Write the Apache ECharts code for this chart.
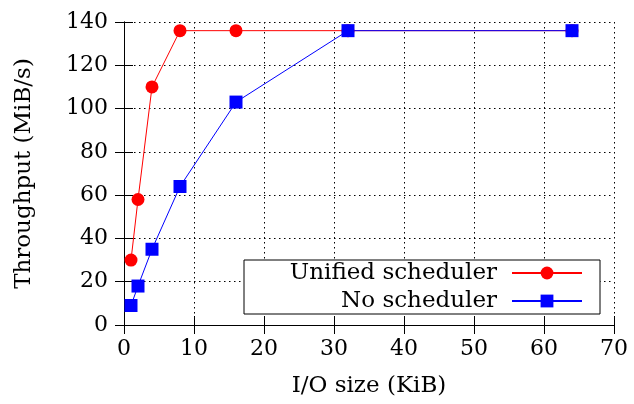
<!DOCTYPE html>
<html><head><meta charset="utf-8">
<script src="https://cdn.jsdelivr.net/npm/echarts@6/dist/echarts.min.js"></script>
<style>html,body{margin:0;padding:0;background:#fff}#c{width:634px;height:404px}</style>
</head><body><div id="c"></div>
<script>
const ioSizes = [1, 2, 4, 8, 16, 32, 64];
const unifiedScheduler = [30, 58, 110, 136, 136, 136, 136];
const noScheduler = [9, 18, 35, 64, 103, 136, 136];
const xTicks = [0, 10, 20, 30, 40, 50, 60, 70];
const yTicks = [0, 20, 40, 60, 80, 100, 120, 140];

const font = 'DejaVu Serif';
const chart = echarts.init(document.getElementById('c'), null, {renderer: 'canvas'});
const axisCommon = {
  axisLine: {show: true, lineStyle: {color: '#000', width: 1}},
  axisTick: {show: true, inside: true, length: 9, lineStyle: {color: '#000'}},
};
const legendText = {fontFamily: font, fontSize: 23, color: '#000', lineHeight: 24, padding: [0, 10, 0, 0]};
chart.setOption({
  animation: false,
  backgroundColor: '#fff',
  grid: {left: 124, top: 22, right: 20, bottom: 79, containLabel: false},
  xAxis: [{
    type: 'value', min: xTicks[0], max: xTicks[xTicks.length - 1], interval: 10,
    name: 'I/O size (KiB)', nameLocation: 'middle', nameGap: 50,
    nameTextStyle: {fontFamily: font, fontSize: 23, color: '#000'},
    axisLabel: {fontFamily: font, fontSize: 22, color: '#000', margin: 13},
    splitLine: {show: true, lineStyle: {color: '#000', type: [1.5, 3.5], width: 1}},
    ...axisCommon
  }, {
    type: 'value', position: 'top', min: xTicks[0], max: xTicks[xTicks.length - 1], interval: 10,
    axisLabel: {show: false}, splitLine: {show: false}, ...axisCommon
  }],
  yAxis: [{
    type: 'value', min: yTicks[0], max: yTicks[yTicks.length - 1], interval: 20,
    name: 'Throughput (MiB/s)', nameLocation: 'middle', nameGap: 88, nameRotate: 90,
    nameTextStyle: {fontFamily: font, fontSize: 23, color: '#000'},
    axisLabel: {fontFamily: font, fontSize: 22, color: '#000', margin: 16},
    splitLine: {show: true, lineStyle: {color: '#000', type: [1.5, 3.5], width: 1}},
    ...axisCommon
  }, {
    type: 'value', position: 'right', min: yTicks[0], max: yTicks[yTicks.length - 1], interval: 20,
    axisLabel: {show: false}, splitLine: {show: false}, ...axisCommon
  }],
  graphic: [{
    type: 'rect', z: 5,
    shape: {x: 244, y: 260, width: 356, height: 54},
    style: {fill: '#fff', stroke: '#000', lineWidth: 1}
  }],
  legend: [{
    data: ['Unified scheduler'], right: 46, top: 256, align: 'right', z: 10,
    itemWidth: 70, itemHeight: 16, itemGap: 10, textStyle: legendText
  }, {
    data: ['No scheduler'], right: 46, top: 284, align: 'right', z: 10,
    itemWidth: 70, itemHeight: 16, itemGap: 10, textStyle: legendText
  }],
  series: [{
    name: 'Unified scheduler', type: 'line',
    data: ioSizes.map((x, i) => [x, unifiedScheduler[i]]),
    symbol: 'circle', symbolSize: 13, showAllSymbol: true,
    lineStyle: {color: '#ff0000', width: 1}, itemStyle: {color: '#ff0000'}
  }, {
    name: 'No scheduler', type: 'line',
    data: ioSizes.map((x, i) => [x, noScheduler[i]]),
    symbol: 'rect', symbolSize: 13, showAllSymbol: true,
    lineStyle: {color: '#0000ff', width: 1}, itemStyle: {color: '#0000ff'}
  }]
});
</script></body></html>
